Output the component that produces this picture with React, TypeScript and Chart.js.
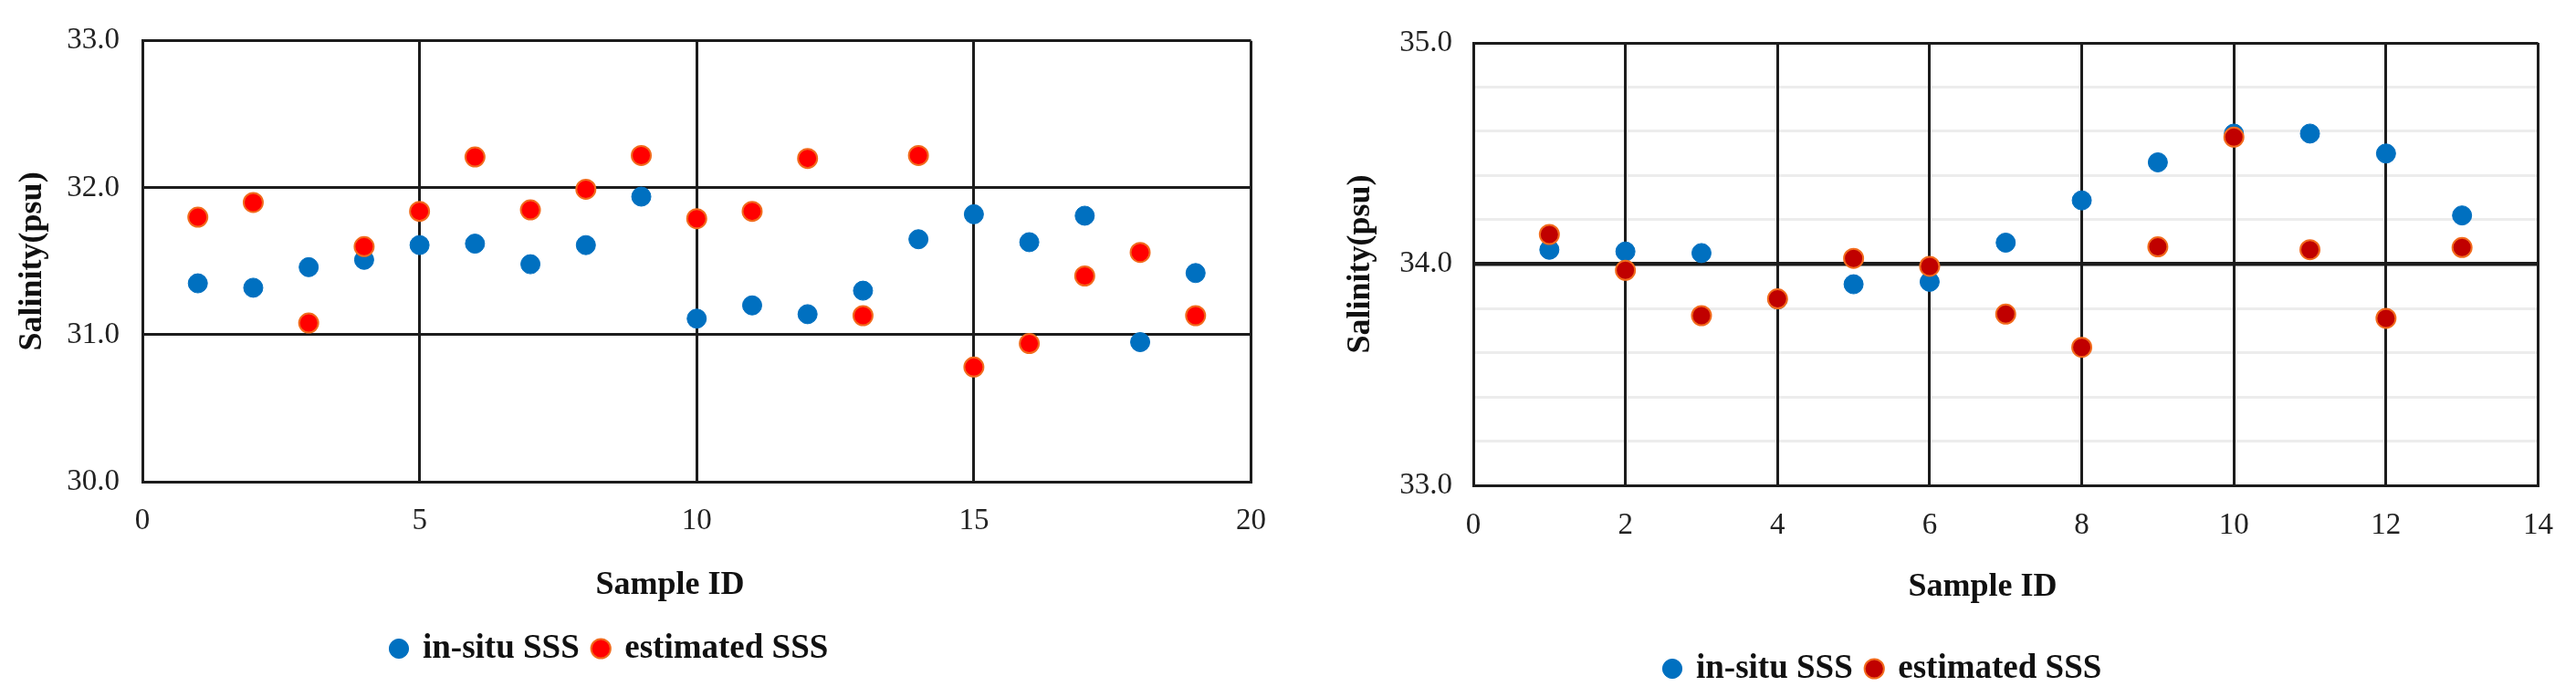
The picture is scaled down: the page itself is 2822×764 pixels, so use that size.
import React, { useEffect, useRef } from 'react';
import { Chart, registerables } from 'chart.js';

Chart.register(...registerables);

// ---------- data ----------
const leftSampleIds = [1, 2, 3, 4, 5, 6, 7, 8, 9, 10, 11, 12, 13, 14, 15, 16, 17, 18, 19];
const leftInSitu = [31.35, 31.32, 31.46, 31.51, 31.61, 31.62, 31.48, 31.61, 31.94, 31.11, 31.2, 31.14, 31.3, 31.65, 31.82, 31.63, 31.81, 30.95, 31.42];
const leftEstimated = [31.8, 31.9, 31.08, 31.6, 31.84, 32.21, 31.85, 31.99, 32.22, 31.79, 31.84, 32.2, 31.13, 32.22, 30.78, 30.94, 31.4, 31.56, 31.13];

const rightSampleIds = [1, 2, 3, 4, 5, 6, 7, 8, 9, 10, 11, 12, 13];
const rightInSitu = [34.065, 34.057, 34.05, 33.84, 33.909, 33.92, 34.097, 34.288, 34.46, 34.59, 34.59, 34.5, 34.22];
const rightEstimated = [34.134, 33.972, 33.767, 33.843, 34.026, 33.99, 33.774, 33.624, 34.078, 34.574, 34.065, 33.755, 34.075];

const seriesLabels = ['in-situ SSS', 'estimated SSS'];
const yAxisTitle = 'Salinity(psu)';
const xAxisTitle = 'Sample ID';

// ---------- styling ----------
const FONT = '"Liberation Serif", "Times New Roman", serif';
const BLUE = '#0070C0';
const ORANGE = '#F26B1D';
const GRID = '#1c1c1c';
const CANVAS_W = 1411;
const CANVAS_H = 764;

const placePlugin = {
  id: 'placeBoxes',
  afterLayout(chart: any, _args: any, opts: any) {
    const lg = chart.legend;
    if (lg && opts && opts.legendX != null) {
      const pad = lg.options.labels.padding;
      const w = lg.width;
      const h = lg.height;
      lg.left = opts.legendX - pad - 7.5;
      lg.right = lg.left + w;
      lg.top = opts.legendY - pad - 18.5;
      lg.bottom = lg.top + h;
    }
    const t = chart.titleBlock;
    if (t && opts && opts.titleX != null) {
      const w = t.width;
      const h = t.height;
      t.left = opts.titleX - w / 2;
      t.right = t.left + w;
      t.top = opts.titleY - 21.6;
      t.bottom = t.top + h;
    }
  },
};

type Panel = {
  ids: number[];
  inSitu: number[];
  estimated: number[];
  red: string;
  xMax: number;
  xStep: number;
  yMin: number;
  yMax: number;
  yStep: number;
  minorGrid: boolean;
  padTop: number;
  padRight: number;
  padBottom: number;
  yAxisW: number;
  yTickPad: number;
  xTickPad: number;
  yTitlePad: number;
  legendX: number;
  legendY: number;
  titleX: number;
  titleY: number;
};

const isWhole = (v: number) => Math.abs(v - Math.round(v)) < 1e-6;

function makeConfig(p: Panel): any {
  const pts = (vals: number[]) => p.ids.map((x, i) => ({ x, y: vals[i] }));
  return {
    type: 'scatter',
    data: {
      datasets: [
        {
          label: seriesLabels[0],
          data: pts(p.inSitu),
          backgroundColor: BLUE,
          borderColor: BLUE,
          borderWidth: 1,
          pointRadius: 10.5,
          pointStyle: 'circle',
          order: 1,
        },
        {
          label: seriesLabels[1],
          data: pts(p.estimated),
          backgroundColor: p.red,
          borderColor: ORANGE,
          borderWidth: 2,
          pointRadius: 10.5,
          pointStyle: 'circle',
          order: 0,
        },
      ],
    },
    options: {
      animation: false,
      responsive: false,
      events: [],
      layout: { padding: { left: 0, top: p.padTop, right: p.padRight, bottom: p.padBottom } },
      scales: {
        x: {
          type: 'linear',
          min: 0,
          max: p.xMax,
          ticks: {
            stepSize: p.xStep,
            padding: p.xTickPad,
            autoSkip: false,
            maxRotation: 0,
            font: { family: FONT, size: 33 },
            color: '#222',
          },
          grid: { color: GRID, lineWidth: 3, drawTicks: false, z: 0 },
          border: { color: GRID, width: 3 },
          afterFit: (s: any) => {
            s.height = 80;
          },
        },
        y: {
          type: 'linear',
          min: p.yMin,
          max: p.yMax,
          ticks: {
            stepSize: p.yStep,
            padding: p.yTickPad,
            autoSkip: false,
            font: { family: FONT, size: 33 },
            color: '#222',
            callback: (v: any) => (isWhole(Number(v)) ? Number(v).toFixed(1) : ''),
          },
          grid: {
            drawTicks: false,
            z: -1,
            color: (c: any) => (c.tick && !isWhole(c.tick.value) ? '#ececec' : GRID),
            lineWidth: (c: any) => {
              if (!c.tick) return 3;
              const v = c.tick.value;
              if (!isWhole(v)) return 3;
              if (p.minorGrid && v !== p.yMin && v !== p.yMax) return 4.5;
              return 3;
            },
          },
          border: { color: GRID, width: 3 },
          title: {
            display: true,
            text: yAxisTitle,
            font: { family: FONT, size: 36, weight: 'bold' },
            color: '#111',
            padding: { top: p.yTitlePad, bottom: 0 },
          },
          afterFit: (s: any) => {
            s.width = p.yAxisW;
          },
        },
      },
      plugins: {
        legend: {
          display: true,
          position: 'bottom',
          align: 'start',
          labels: {
            usePointStyle: true,
            pointStyle: 'circle',
            boxWidth: 15,
            boxHeight: 15,
            padding: 16,
            font: { family: FONT, size: 37, weight: 'bold' },
            color: '#111',
            sort: (a: any, b: any) => a.datasetIndex - b.datasetIndex,
          },
        },
        title: {
          display: true,
          position: 'bottom',
          text: xAxisTitle,
          font: { family: FONT, size: 36, weight: 'bold' },
          color: '#111',
          padding: 0,
        },
        tooltip: { enabled: false },
        placeBoxes: { legendX: p.legendX, legendY: p.legendY, titleX: p.titleX, titleY: p.titleY },
      },
    },
    plugins: [placePlugin],
  };
}

const leftPanel: Panel = {
  ids: leftSampleIds,
  inSitu: leftInSitu,
  estimated: leftEstimated,
  red: '#FF0000',
  xMax: 20,
  xStep: 5,
  yMin: 30,
  yMax: 33,
  yStep: 1,
  minorGrid: false,
  padTop: 41,
  padRight: CANVAS_W - 1380,
  padBottom: CANVAS_H - 528 - 80 - 43.2 - 63,
  yAxisW: 156,
  yTickPad: 25,
  xTickPad: 24,
  yTitlePad: 14.4,
  legendX: 437,
  legendY: 711,
  titleX: 734,
  titleY: 642,
};

const rightPanel: Panel = {
  ids: rightSampleIds,
  inSitu: rightInSitu,
  estimated: rightEstimated,
  red: '#C00000',
  xMax: 14,
  xStep: 2,
  yMin: 33,
  yMax: 35,
  yStep: 0.2,
  minorGrid: true,
  padTop: 47,
  padRight: CANVAS_W - 1381,
  padBottom: CANVAS_H - 532 - 80 - 43.2 - 63,
  yAxisW: 203,
  yTickPad: 23,
  xTickPad: 25,
  yTitlePad: 58.4,
  legendX: 421,
  legendY: 733,
  titleX: 761,
  titleY: 644,
};

function ChartPanel({ panel, left }: { panel: Panel; left: number }) {
  const ref = useRef<HTMLCanvasElement | null>(null);
  useEffect(() => {
    if (!ref.current) return;
    const chart = new Chart(ref.current, makeConfig(panel));
    return () => chart.destroy();
  }, [panel]);
  return (
    <canvas
      ref={ref}
      width={CANVAS_W}
      height={CANVAS_H}
      style={{ position: 'absolute', left, top: 0, width: CANVAS_W, height: CANVAS_H }}
    />
  );
}

export default function App() {
  return (
    <div
      style={{
        position: 'absolute',
        left: 0,
        top: 0,
        width: 2822,
        height: 764,
        background: '#ffffff',
        overflow: 'hidden',
      }}
    >
      <ChartPanel panel={leftPanel} left={0} />
      <ChartPanel panel={rightPanel} left={1411} />
    </div>
  );
}
